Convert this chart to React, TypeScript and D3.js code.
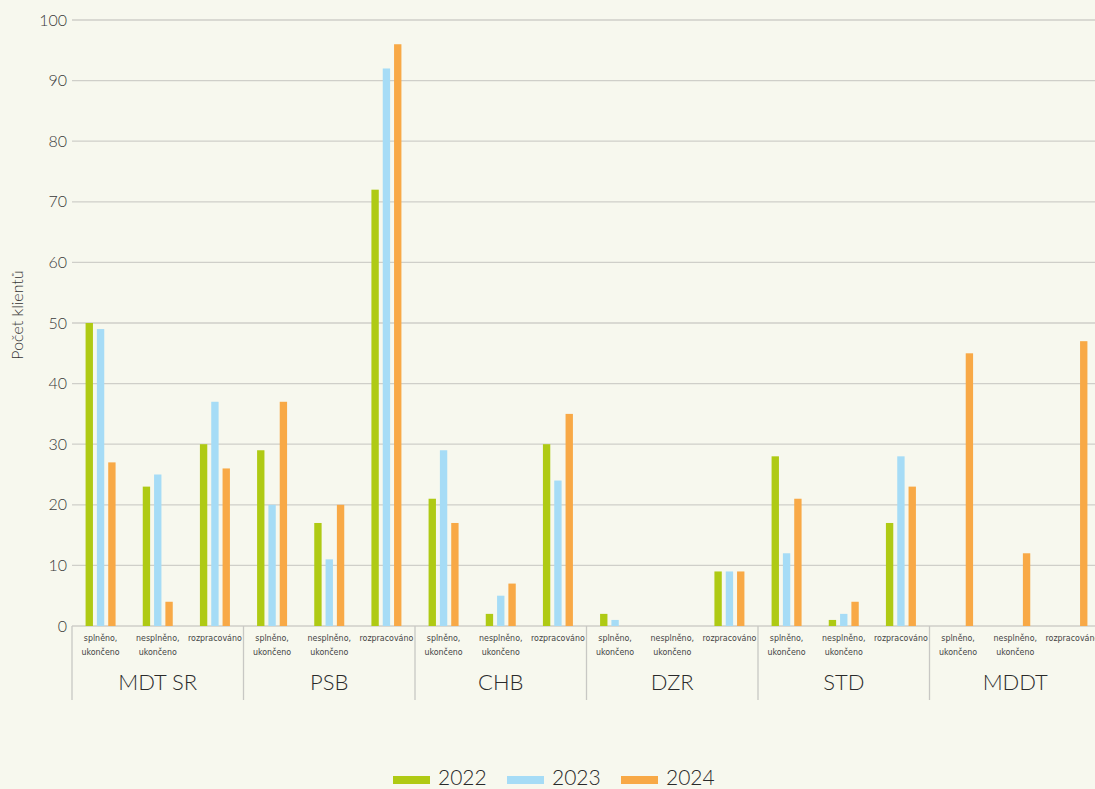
import React from 'react';
import * as d3 from 'd3';

const groups = ['MDT SR', 'PSB', 'CHB', 'DZR', 'STD', 'MDDT'];
const statuses = ['splněno,\nukončeno', 'nesplněno,\nukončeno', 'rozpracováno'];
const years = ['2022', '2023', '2024'];
const colors = ['#afca14', '#a6dcf6', '#f8a946'];

// one value per (group, status), in order of groups x statuses
const values2022 = [50, 23, 30, 29, 17, 72, 21, 2, 30, 2, 0, 9, 28, 1, 17, 0, 0, 0];
const values2023 = [49, 25, 37, 20, 11, 92, 29, 5, 24, 1, 0, 9, 12, 2, 28, 0, 0, 0];
const values2024 = [27, 4, 26, 37, 20, 96, 17, 7, 35, 0, 0, 9, 21, 4, 23, 45, 12, 47];
const yTicks = [0, 10, 20, 30, 40, 50, 60, 70, 80, 90, 100];

export default function App() {
  const W = 1095;
  const H = 789;
  const margin = { left: 72, top: 20 };
  const plotBottom = 626;
  const plotRight = 1101;

  const cats = groups.flatMap(g => statuses.map(s => `${g}|${s}`));
  const series = [values2022, values2023, values2024];

  const x = d3.scaleBand<string>().domain(cats).range([margin.left, plotRight]).paddingInner(0).paddingOuter(0);
  const xSub = d3.scaleBand<string>().domain(years).range([0, 30]).paddingInner(0.35);
  const y = d3.scaleLinear().domain([0, 100]).range([plotBottom, margin.top]);
  const groupW = x.bandwidth() * statuses.length;

  const font = 'Lato, "Open Sans", sans-serif';
  const narrow = '"Liberation Sans Narrow", "DejaVu Sans Condensed", sans-serif';

  return (
    <svg width={W} height={H} style={{ position: 'absolute', left: 0, top: 0, background: '#f7f8ee' }}>
      <rect width={W} height={H} fill="#f7f8ee" />
      {yTicks.map(t => (
        <g key={t}>
          <line x1={margin.left} x2={plotRight} y1={y(t)} y2={y(t)} stroke="#cfcfc9" strokeWidth={1.3} />
          <text x={67} y={y(t)} dy="0.35em" textAnchor="end" fontFamily={font} fontWeight={300}
            fontSize={16} fill="#3a3a3a">{t}</text>
        </g>
      ))}
      <text transform={`translate(23,315) rotate(-90)`} textAnchor="middle"
        fontFamily={font} fontWeight={300} fontSize={16} fill="#333">Počet klientů</text>

      {cats.map((c, i) => {
        const cx = (x(c) ?? 0) + x.bandwidth() / 2;
        return (
          <g key={c}>
            {series.map((s, j) => s[i] > 0 ? (
              <rect key={j} x={cx - 15 + (xSub(years[j]) ?? 0)} width={xSub.bandwidth()}
                y={y(s[i])} height={y(0) - y(s[i])} fill={colors[j]} />
            ) : null)}
            {c.split('|')[1].split('\n').map((ln, k) => (
              <text key={k} x={cx} y={641 + k * 14} textAnchor="middle" fontFamily={narrow}
                fontSize={8.8} fill="#444">{ln}</text>
            ))}
          </g>
        );
      })}

      {groups.map((g, i) => {
        const gx = margin.left + i * groupW;
        return (
          <g key={g}>
            <line x1={gx} x2={gx} y1={plotBottom} y2={700} stroke="#c8c8c4" strokeWidth={1.3} />
            <text x={gx + groupW / 2} y={690} textAnchor="middle" fontFamily={font} fontWeight={300}
              fontSize={22} fill="#2a2a2a">{g}</text>
          </g>
        );
      })}

      {years.map((yr, j) => {
        const lx = 393 + j * 114;
        return (
          <g key={yr}>
            <rect x={lx} y={776} width={37} height={8} fill={colors[j]} />
            <text x={lx + 45} y={785} fontFamily={font} fontWeight={300} fontSize={21} fill="#2a2a2a">{yr}</text>
          </g>
        );
      })}
    </svg>
  );
}
